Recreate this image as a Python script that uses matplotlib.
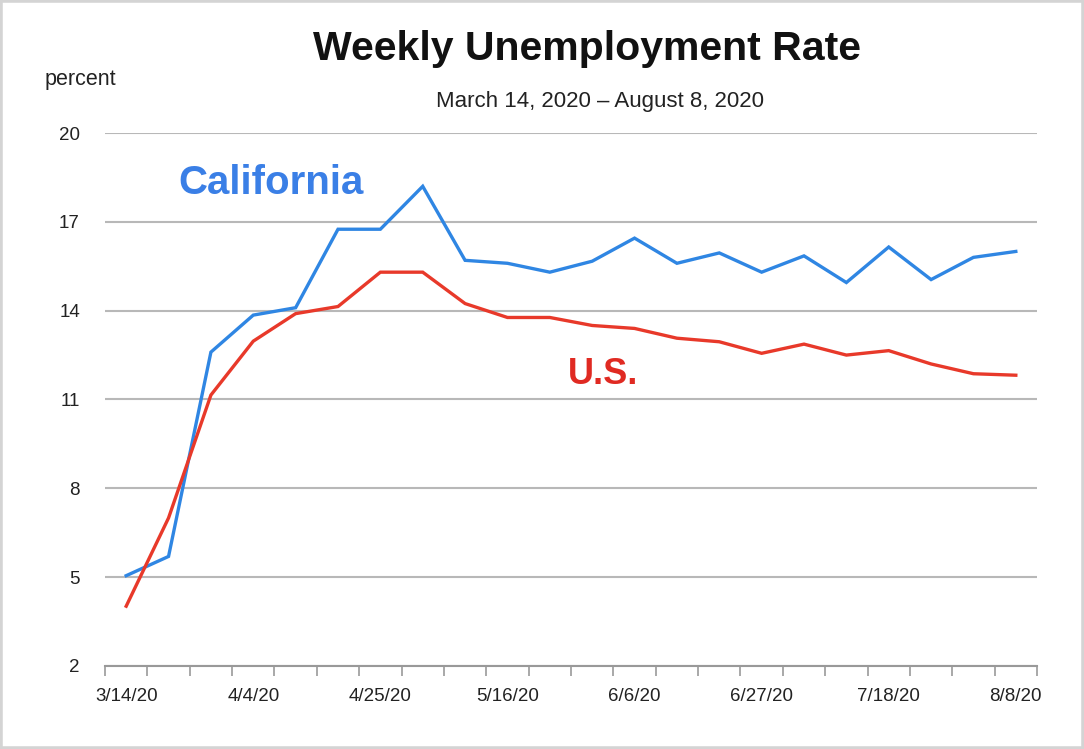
import matplotlib
matplotlib.use("Agg")
import matplotlib.pyplot as plt
from matplotlib.patches import Rectangle
from matplotlib import font_manager

weeks = ["3/14/20", "3/21/20", "3/28/20", "4/4/20", "4/11/20", "4/18/20", "4/25/20",
         "5/2/20", "5/9/20", "5/16/20", "5/23/20", "5/30/20", "6/6/20", "6/13/20",
         "6/20/20", "6/27/20", "7/4/20", "7/11/20", "7/18/20", "7/25/20", "8/1/20", "8/8/20"]
california = [5.05, 5.7, 12.6, 13.85, 14.1, 16.75, 16.75, 18.2, 15.7, 15.6, 15.3, 15.67,
              16.45, 15.6, 15.95, 15.3, 15.85, 14.95, 16.15, 15.05, 15.8, 16.0]
us = [4.02, 7.0, 11.15, 12.97, 13.9, 14.14, 15.3, 15.3, 14.24, 13.77, 13.77, 13.5,
      13.4, 13.07, 12.95, 12.56, 12.87, 12.5, 12.65, 12.2, 11.87, 11.82]
yticks = [2, 5, 8, 11, 14, 17, 20]
label_every = 3

names = {f.name for f in font_manager.fontManager.ttflist}
narrow = "Liberation Sans Narrow" in names
fam = ['Liberation Sans Narrow', 'DejaVu Sans'] if narrow else ['Liberation Sans', 'DejaVu Sans']
plt.rcParams['font.family'] = fam
k = 1.18 if narrow else 1.0  # size factor for narrow font

W, H = 1084, 749
fig = plt.figure(figsize=(W / 100, H / 100), dpi=100)
fig.patches.append(Rectangle((0, 0), 1, 1, transform=fig.transFigure, fill=False,
                             edgecolor="#d4d4d4", linewidth=4))

left, right, top, bottom = 105, 1037, 133, 666
ax = fig.add_axes([left / W, 1 - bottom / H, (right - left) / W, (bottom - top) / H])

x = list(range(len(weeks)))
ax.plot(x, california, color="#2f86e3", linewidth=2.4, solid_joinstyle="miter", zorder=3)
ax.plot(x, us, color="#e8392a", linewidth=2.4, solid_joinstyle="miter", zorder=3)

ax.set_xlim(-0.5, len(weeks) - 0.5)
ax.set_ylim(2, 20)
ax.set_yticks(yticks)
ax.set_yticklabels([str(v) for v in yticks], fontsize=13.5 * k, color="#222222")
ax.yaxis.grid(True, color="#b8b8b8", linewidth=1.5)
ax.set_axisbelow(True)

ax.set_xticks(x[::label_every])
ax.set_xticklabels(weeks[::label_every], fontsize=13.5 * k, color="#222222")
ax.set_xticks([i - 0.5 for i in range(len(weeks) + 1)], minor=True)
ax.tick_params(axis="x", which="major", length=0, pad=16)
ax.tick_params(axis="x", which="minor", length=7, width=1.2, color="#999999", direction="out")
ax.tick_params(axis="y", length=0, pad=18)

for s in ["left", "right", "top"]:
    ax.spines[s].set_visible(False)
ax.spines["bottom"].set_color("#999999")
ax.spines["bottom"].set_linewidth(1.5)

fig.text(587 / W, 1 - 49 / H, "Weekly Unemployment Rate", fontsize=29.5 * k, fontweight="bold",
         ha="center", va="center", color="#111111")
fig.text(600 / W, 1 - 101 / H, "March 14, 2020 \u2013 August 8, 2020", fontsize=16 * k,
         ha="center", va="center", color="#222222")
fig.text(45 / W, 1 - 80 / H, "percent", fontsize=15.5 * k, ha="left", va="center", color="#222222")

fig.text(178 / W, 1 - 183 / H, "California", fontsize=29 * k, fontweight="bold",
         ha="left", va="center", color="#3a7fe6")
fig.text(568 / W, 1 - 375 / H, "U.S.", fontsize=26 * k, fontweight="bold",
         ha="left", va="center", color="#e02a22")

fig.savefig("out.png", dpi=100, facecolor="white")
